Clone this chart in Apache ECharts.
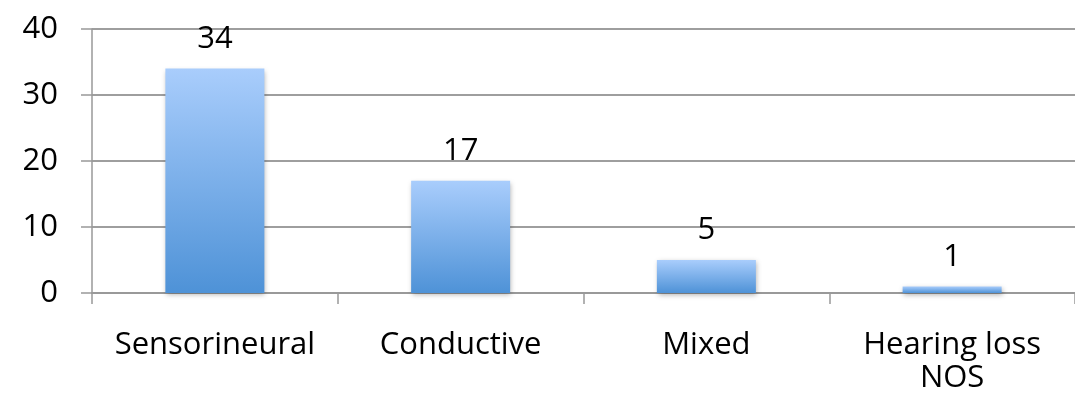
<!DOCTYPE html>
<html>
<head>
<meta charset="utf-8">
<script src="https://cdn.jsdelivr.net/npm/echarts@6/dist/echarts.min.js"></script>
<style>
html,body{margin:0;padding:0;background:#fff;}
#chart{width:1075px;height:398px;}
</style>
</head>
<body>
<div id="chart"></div>
<script>
const categories = ['Sensorineural', 'Conductive', 'Mixed', 'Hearing loss\nNOS'];
const values = [34, 17, 5, 1];
const yTicks = [0, 10, 20, 30, 40];

const chart = echarts.init(document.getElementById('chart'));
const font = '"Open Sans", sans-serif';
chart.setOption({
  animation: false,
  grid: { left: 92, right: -7, top: 29, bottom: 105, containLabel: false },
  xAxis: {
    type: 'category',
    data: categories,
    axisLine: { show: true, lineStyle: { color: '#999', width: 2 } },
    axisTick: { show: true, length: 11, alignWithLabel: false, lineStyle: { color: '#999', width: 1.5 } },
    axisLabel: { color: '#000', fontSize: 31, fontFamily: font, margin: 36, lineHeight: 33, interval: 0 },
    splitLine: { show: false }
  },
  yAxis: {
    type: 'value',
    min: yTicks[0],
    max: yTicks[yTicks.length - 1],
    interval: 10,
    axisLine: { show: true, lineStyle: { color: '#999', width: 1.5 } },
    axisTick: { show: true, length: 11, lineStyle: { color: '#999', width: 1.5 } },
    axisLabel: { color: '#000', fontSize: 31, fontFamily: font, margin: 34 },
    splitLine: { show: true, lineStyle: { color: '#9e9e9e', width: 2 } }
  },
  series: [{
    type: 'bar',
    data: values,
    barWidth: 99,
    itemStyle: {
      color: new echarts.graphic.LinearGradient(0, 0, 0, 1, [
        { offset: 0, color: '#a9cdfc' },
        { offset: 1, color: '#4e92d7' }
      ]),
      shadowBlur: 5,
      shadowColor: 'rgba(0,0,0,0.3)',
      shadowOffsetX: 1,
      shadowOffsetY: 2
    },
    label: {
      show: true,
      position: 'top',
      distance: 14,
      color: '#000',
      fontSize: 31,
      fontFamily: font
    }
  }]
});
</script>
</body>
</html>
